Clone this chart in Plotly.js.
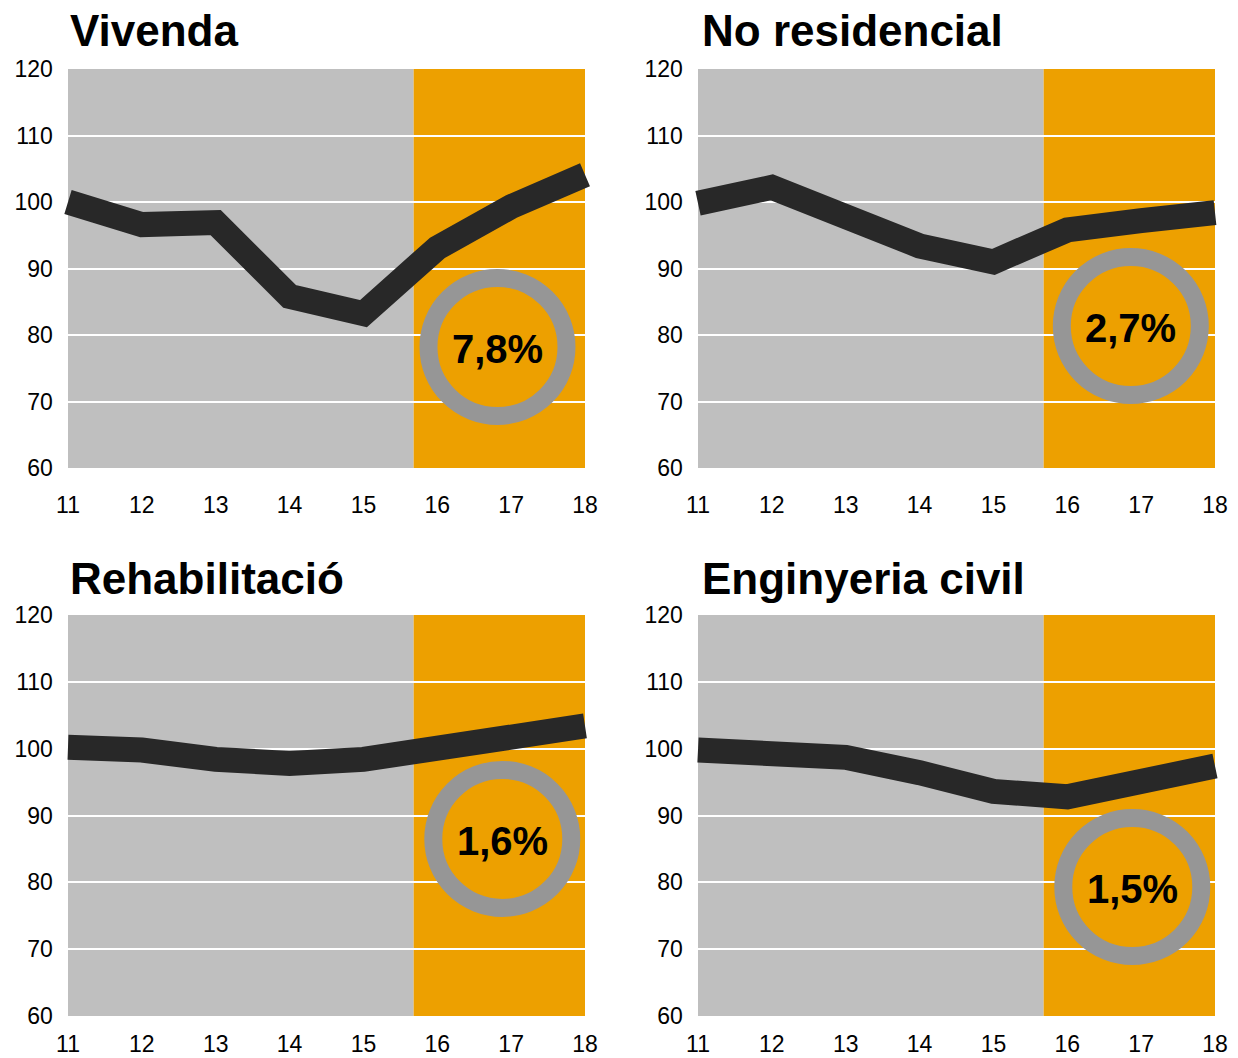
<!DOCTYPE html>
<html>
<head>
<meta charset="utf-8">
<script src="https://cdn.plot.ly/plotly-3.0.1.min.js"></script>
<style>
html,body{margin:0;padding:0;background:#fff;}
#chart{width:1238px;height:1058px;}
</style>
</head>
<body>
<div id="chart"></div>
<script>
// ---- Data ----
const years = [11, 12, 13, 14, 15, 16, 17, 18];
const tickLabels = ['11', '12', '13', '14', '15', '16', '17', '18'];
const yTicks = [60, 70, 80, 90, 100, 110, 120];

const titles = ['Vivenda', 'No residencial', 'Rehabilitació', 'Enginyeria civil'];
const vivenda = [100.0, 96.6, 96.9, 85.8, 83.2, 93.1, 99.3, 104.1];
const noResidencial = [99.8, 102.2, 97.8, 93.4, 91.0, 95.8, 97.2, 98.4];
const rehabilitacio = [100.2, 99.8, 98.4, 97.8, 98.4, 100.2, 101.6, 103.4];
const enginyeria = [99.8, 99.5, 98.7, 96.4, 93.6, 92.8, 94.9, 97.4];
const growth = ['7,8%', '2,7%', '1,6%', '1,5%'];
const forecastStart = 15.68;

// ---- Styling / layout ----
const series = [vivenda, noResidencial, rehabilitacio, enginyeria];
const GRAY = '#BFBFBF', ORANGE = '#EDA000', RING = '#969696', LINE = '#282828';
const W = 1238, H = 1058;
const px = (p) => p / W, py = (p) => 1 - p / H;

// pixel geometry of each plot area (x=11 left, x=18 right; y=120 top, y=60 bottom)
const boxes = [
  {l: 68, r: 585, t: 69, b: 468, st: 21},
  {l: 698, r: 1215, t: 69, b: 468, st: 21},
  {l: 68, r: 585, t: 615, b: 1016, st: 12},
  {l: 698, r: 1215, t: 615, b: 1016, st: 12}
];
const titlePos = [
  {x: 68, y: 30}, {x: 700, y: 30}, {x: 68, y: 578}, {x: 700, y: 578}
];
const circlePos = [
  {x: 16.815, y: 78.2}, {x: 16.86, y: 81.35}, {x: 16.88, y: 86.5}, {x: 16.88, y: 79.3}
];

const pad = 0.15; // extra data range on each side so the thick line is not clipped
const data = [];
const layout = {
  width: W, height: H,
  margin: {l: 0, r: 0, t: 0, b: 0},
  paper_bgcolor: '#ffffff',
  plot_bgcolor: 'rgba(0,0,0,0)',
  showlegend: false,
  font: {family: 'Liberation Sans, Arial, sans-serif', color: '#000'},
  shapes: [],
  annotations: []
};

series.forEach((vals, i) => {
  const n = i + 1;
  const xa = 'x' + (n === 1 ? '' : n), ya = 'y' + (n === 1 ? '' : n);
  const xk = 'xaxis' + (n === 1 ? '' : n), yk = 'yaxis' + (n === 1 ? '' : n);
  const b = boxes[i];
  const ppu = (b.r - b.l) / 7;
  data.push({
    type: 'scatter', mode: 'lines', x: years, y: vals,
    xaxis: xa, yaxis: ya,
    line: {color: LINE, width: 25},
    hoverinfo: 'skip'
  });
  layout[xk] = {
    domain: [px(b.l - pad * ppu), px(b.r + pad * ppu)],
    range: [11 - pad, 18 + pad],
    anchor: ya,
    tickvals: years, ticktext: tickLabels,
    showgrid: false, zeroline: false, showline: false,
    ticks: '', ticklabelstandoff: b.st,
    tickfont: {size: 23, color: '#000'},
    fixedrange: true
  };
  layout[yk] = {
    domain: [py(b.b), py(b.t)],
    range: [60, 120],
    anchor: xa,
    tickvals: yTicks,
    showgrid: true, gridcolor: '#ffffff', gridwidth: 2,
    zeroline: false, showline: false,
    ticks: '', ticklabelstandoff: 3,
    tickfont: {size: 23, color: '#000'},
    fixedrange: true
  };
  // background panels
  layout.shapes.push({
    type: 'rect', xref: xa, yref: ya, layer: 'below',
    x0: 11, x1: forecastStart, y0: 59.6, y1: 120,
    fillcolor: GRAY, line: {width: 0}
  });
  layout.shapes.push({
    type: 'rect', xref: xa, yref: ya, layer: 'below',
    x0: forecastStart, x1: 18, y0: 59.6, y1: 120.2,
    fillcolor: ORANGE, line: {width: 0}
  });
  // ring
  const c = circlePos[i];
  layout.shapes.push({
    type: 'circle', xref: xa, yref: ya, layer: 'between',
    xsizemode: 'pixel', ysizemode: 'pixel',
    xanchor: c.x, yanchor: c.y,
    x0: -69, x1: 69, y0: -69, y1: 69,
    fillcolor: ORANGE, line: {color: RING, width: 18}
  });
  layout.annotations.push({
    xref: xa, yref: ya, x: c.x, y: c.y, yshift: -2,
    text: '<b>' + growth[i] + '</b>', showarrow: false,
    xanchor: 'center', yanchor: 'middle',
    font: {family: 'Liberation Sans Narrow, Arial Narrow, Liberation Sans, sans-serif', size: 40, color: '#000'}
  });
  layout.annotations.push({
    xref: 'paper', yref: 'paper', x: px(titlePos[i].x), y: py(titlePos[i].y),
    text: '<b>' + titles[i] + '</b>', showarrow: false,
    xanchor: 'left', yanchor: 'middle',
    font: {family: 'Liberation Sans, Arial, sans-serif', size: 44, color: '#000'}
  });
});

Plotly.newPlot('chart', data, layout, {displayModeBar: false, staticPlot: true});
</script>
</body>
</html>
